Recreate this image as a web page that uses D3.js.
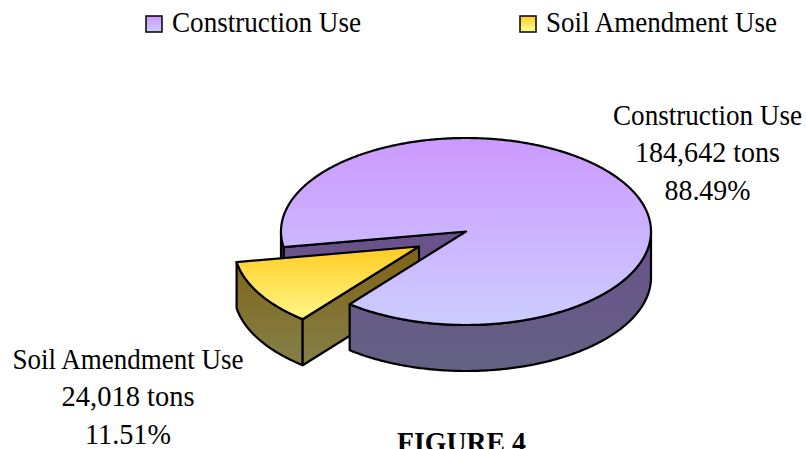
<!DOCTYPE html>
<html>
<head>
<meta charset="utf-8">
<script src="https://cdn.jsdelivr.net/npm/d3@7"></script>
<style>
html,body{margin:0;padding:0;background:#fff;overflow:hidden}
text{font-family:"Liberation Serif","Times New Roman",serif;fill:#000}
</style>
</head>
<body>
<svg id="chart" width="806" height="449"></svg>
<script>
const categories = ["Construction Use", "Soil Amendment Use"];
const tons = [184642, 24018];
const tonLabels = ["184,642 tons", "24,018 tons"];
const percentLabels = ["88.49%", "11.51%"];
const topColors = [["#cc99ff", "#ccccff"], ["#ffcc22", "#ffff99"]];
const wallColors = [["#6b4f8c", "#636283"], ["#806314", "#84834f"]];
const figureTitle = "FIGURE 4";

const svg = d3.select("#chart");
const x = d3.scaleLinear().domain([-1, 1]).range([281, 651]);
const y = d3.scaleLinear().domain([-1, 1]).range([138, 325]);
const depth = 46;
const explode = [-47, 15];
const startDeg = 260.4;
const fontSize = 29;

const arcs = d3.pie().sort(null).value(d => d)
  .startAngle(startDeg * Math.PI / 180)
  .endAngle((startDeg + 360) * Math.PI / 180)(tons);

const pt = (a, dx = 0, dy = 0) => [x(Math.sin(a)) + dx, y(-Math.cos(a)) + dy];
const center = (dx = 0, dy = 0) => [x(0) + dx, y(0) + dy];
const sample = (a0, a1) => {
  const n = Math.max(2, Math.ceil(Math.abs(a1 - a0) / 0.01));
  return d3.range(n + 1).map(i => a0 + (a1 - a0) * i / n);
};
const line = d3.line();

const defs = svg.append("defs");
function grad(id, cols, y1, y2) {
  const g = defs.append("linearGradient").attr("id", id)
    .attr("gradientUnits", "userSpaceOnUse")
    .attr("x1", 0).attr("x2", 0).attr("y1", y1).attr("y2", y2);
  g.append("stop").attr("offset", 0).attr("stop-color", cols[0]);
  g.append("stop").attr("offset", 1).attr("stop-color", cols[1]);
}
grad("top0", topColors[0], y(-1), y(1));
grad("wall0", wallColors[0], y(-0.1), y(1) + depth);
grad("top1", topColors[1], y(0) + explode[1], y(0.92) + explode[1]);
grad("wall1", wallColors[1], y(0) + explode[1], y(0.92) + explode[1] + depth);

const stroke = {stroke: "#000", "stroke-width": 2.2, "stroke-linejoin": "round"};
function poly(points, fill) {
  const p = svg.append("path").attr("d", line(points) + "Z").attr("fill", fill);
  Object.entries(stroke).forEach(([k, v]) => p.attr(k, v));
  return p;
}
function wall(a0, a1, fill, dx = 0, dy = 0) {
  const as = sample(a0, a1);
  poly(as.map(a => pt(a, dx, dy)).concat(as.slice().reverse().map(a => pt(a, dx, dy + depth))), fill);
}
// text squeezed horizontally to the reference's width, centred on cx
function label(t, cx, base, width, bold) {
  const el = svg.append("text").attr("font-size", fontSize).attr("text-anchor", "middle")
    .attr("font-weight", bold ? "bold" : "normal").text(t);
  const sx = width / el.node().getComputedTextLength();
  el.attr("transform", `translate(${cx},${base}) scale(${sx},1)`);
}
const TAU = 2 * Math.PI;
const main = arcs[0], soil = arcs[1];

// cut face of the main pie seen through the gap
poly([center(), pt(main.startAngle), pt(main.startAngle, 0, depth), center(0, depth)], "url(#wall0)");
wall(main.startAngle, 1.5 * Math.PI, "url(#wall0)");

// exploded slice
const [ex, ey] = explode;
wall(soil.startAngle, soil.endAngle, "url(#wall1)", ex, ey);
poly([center(ex, ey), pt(soil.startAngle, ex, ey), pt(soil.startAngle, ex, ey + depth), center(ex, ey + depth)], "url(#wall1)");
poly([center(ex, ey)].concat(sample(soil.startAngle, soil.endAngle).map(a => pt(a, ex, ey))), "url(#top1)");

// main pie: front wall then top
wall(0.5 * Math.PI + TAU, soil.startAngle, "url(#wall0)");
poly([center()].concat(sample(main.startAngle, main.endAngle).map(a => pt(a))), "url(#top0)");

// legend
const legendX = [146, 520], legendTextCx = [266.5, 661.5], legendWidths = [189, 231], legendBase = 32;
categories.forEach((c, i) => {
  grad("leg" + i, topColors[i], 16, 32);
  svg.append("rect").attr("x", legendX[i]).attr("y", 16).attr("width", 16).attr("height", 16)
    .attr("fill", `url(#leg${i})`).attr("stroke", "#000").attr("stroke-width", 1.5);
  label(c, legendTextCx[i], legendBase, legendWidths[i]);
});

// data labels
const labelCx = [707.5, 128], labelBase = [[125, 162, 200], [369, 406, 444]], labelW = [[189, 145, 86], [231, 133, 86]];
categories.forEach((c, i) => {
  [c, tonLabels[i], percentLabels[i]].forEach((t, j) => label(t, labelCx[i], labelBase[i][j], labelW[i][j]));
});

label(figureTitle, 461.5, 452, 129, true);
</script>
</body>
</html>
